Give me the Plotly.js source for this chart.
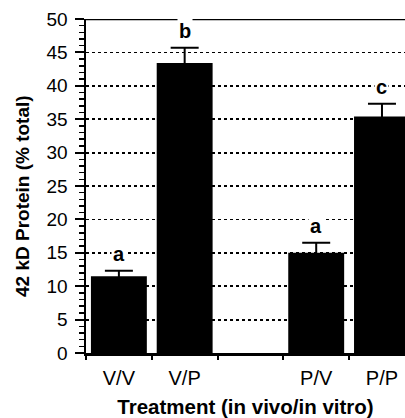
<!DOCTYPE html>
<html>
<head>
<meta charset="utf-8">
<script src="https://cdn.plot.ly/plotly-3.0.1.min.js"></script>
<style>html,body{margin:0;padding:0;background:#fff;overflow:hidden}</style>
</head>
<body>
<div id="chart" style="width:405px;height:418px"></div>
<script>
const categories = ['V/V', 'V/P', ' ', 'P/V', 'P/P'];
const values = [11.5, 43.4, null, 15.0, 35.4];
const errors = [0.8, 2.3, null, 1.5, 1.9];
const letters = ['a', 'b', '', 'a', 'c'];
const yTitle = '42 kD Protein (% total)';
const xTitle = 'Treatment (in vivo/in vitro)';

const font = 'Liberation Sans, Arial, Helvetica, sans-serif';

const trace = {
  type: 'bar',
  x: categories,
  y: values,
  marker: {color: '#000', line: {width: 0}},
  error_y: {type: 'data', array: errors, visible: true, color: '#000', thickness: 2, width: 14},
  hoverinfo: 'none'
};

const annotations = categories.map((c, i) => letters[i] ? ({
  x: c, y: values[i] + errors[i], xref: 'x', yref: 'y',
  text: '<b>' + letters[i] + '</b>', showarrow: false,
  yanchor: 'bottom', yshift: 4, bgcolor: '#fff', borderpad: 1,
  font: {family: font, size: 20, color: '#000'}
}) : null).filter(a => a);

annotations.push({
  xref: 'paper', yref: 'paper', x: 0, y: 0.47, xshift: -64,
  text: '<b>' + yTitle + '</b>', textangle: -90, showarrow: false,
  xanchor: 'center', yanchor: 'middle',
  font: {family: font, size: 19, color: '#000'}
});

const layout = {
  width: 405, height: 418,
  margin: {l: 86, r: 0, t: 19, b: 65},
  showlegend: false,
  bargap: 0.15,
  xaxis: {
    type: 'category',
    range: [-0.5, 4.35],
    tickson: 'boundaries',
    ticks: 'outside', ticklen: 4, tickwidth: 2, tickcolor: '#000',
    showline: true, linecolor: '#000', linewidth: 2.5,
    showgrid: false, zeroline: false,
    tickfont: {family: font, size: 20, color: '#000'},
    ticklabelstandoff: 5,
    title: {text: '<b>' + xTitle + '</b>', font: {family: font, size: 20.5, color: '#000'}, standoff: 12},
    fixedrange: true
  },
  yaxis: {
    range: [0, 50],
    tickmode: 'linear', tick0: 0, dtick: 5,
    ticks: 'outside', ticklen: 9, tickwidth: 2, tickcolor: '#000',
    minor: {dtick: 1, ticks: 'outside', ticklen: 5, tickwidth: 1.5, tickcolor: '#000'},
    showline: true, linecolor: '#000', linewidth: 2.5,
    showgrid: true, gridcolor: '#000', gridwidth: 1.8, griddash: 'dot',
    zeroline: false,
    tickfont: {family: font, size: 19, color: '#000'},
    ticklabelstandoff: 3,
    fixedrange: true
  },
  shapes: [{
    type: 'line', xref: 'paper', yref: 'y', x0: 0, x1: 1, y0: 50, y1: 50,
    line: {color: '#000', width: 2.5}
  }],
  annotations: annotations
};

Plotly.newPlot('chart', [trace], layout, {displayModeBar: false, staticPlot: true});
</script>
</body>
</html>
